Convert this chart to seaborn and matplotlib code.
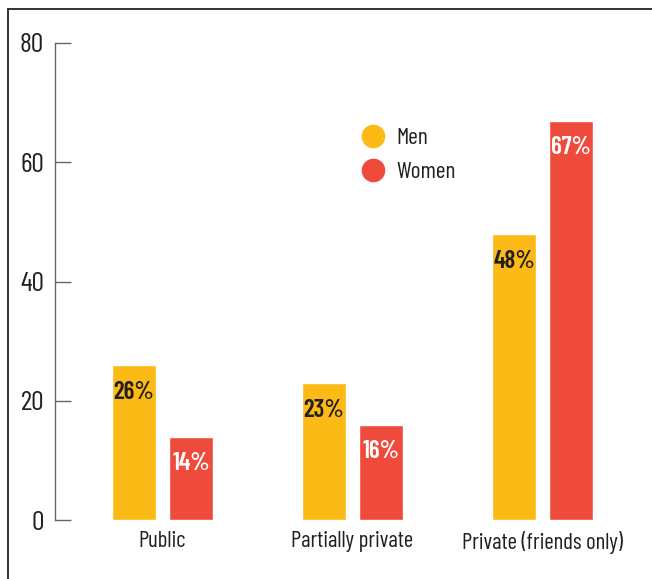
import matplotlib
matplotlib.use("Agg")
import matplotlib.pyplot as plt
from matplotlib.lines import Line2D
from matplotlib.patches import Rectangle
import seaborn as sns
import pandas as pd

# values
categories = ["Public", "Partially private", "Private (friends only)"]
men = [26, 23, 48]
women = [14, 16, 67]
groups = ["Men", "Women"]
colors = {"Men": "#FBBA16", "Women": "#EF4B3C"}
text_dark = "#231F20"

df = pd.DataFrame({
    "setting": categories * 2,
    "gender": ["Men"] * 3 + ["Women"] * 3,
    "pct": men + women,
})

sns.set_style("white")
plt.rcParams["font.family"] = ["Barlow Condensed", "DejaVu Sans"]

fig = plt.figure(figsize=(6.52, 5.79), dpi=100)
ax = fig.add_axes([55 / 652, 1 - 520 / 579, (637.5 - 55) / 652, 477 / 579])

sns.barplot(data=df, x="setting", y="pct", hue="gender", order=categories,
            hue_order=groups, palette=colors, width=0.6, gap=0.23,
            saturation=1, legend=False, ax=ax)

ax.set_xlim(-0.566, 2.5)
ax.set_ylim(0, 80)
ax.set_yticks([0, 20, 40, 60, 80])
ax.set_xlabel("")
ax.set_ylabel("")

for side in ["top", "right", "bottom"]:
    ax.spines[side].set_visible(False)
ax.spines["left"].set_color("#666666")
ax.spines["left"].set_linewidth(1)

ax.tick_params(axis="y", left=True, direction="in", length=11.5, width=1,
               color="#666666", pad=8, labelsize=20, labelcolor=text_dark)
ax.tick_params(axis="x", bottom=False, length=0, pad=8, labelsize=16.5,
               labelcolor=text_dark)

# percentage labels inside the bars
label_colors = [text_dark, "white"]
for cont, col in zip(ax.containers, label_colors):
    ax.bar_label(cont, labels=[f"{v:.0f}%" for v in cont.datavalues],
                 padding=-28, color=col, fontsize=18, fontweight="semibold")

handles = [Line2D([], [], marker="o", linestyle="", markersize=16,
                  markerfacecolor=colors[g], markeredgecolor=colors[g])
           for g in groups]
ax.legend(handles, groups, loc="upper left", bbox_to_anchor=(0.49, 0.843),
          frameon=False, fontsize=17, labelcolor=text_dark,
          handletextpad=-0.05, labelspacing=0.55, borderaxespad=0)

# outer frame (only top and left edges fall inside the image)
fig.add_artist(Rectangle((8 / 652, -0.5), 2, 1.5 - 9 / 579, fill=False,
                         edgecolor="#333333", linewidth=1.4,
                         transform=fig.transFigure))

fig.savefig("out.png", dpi=100)
